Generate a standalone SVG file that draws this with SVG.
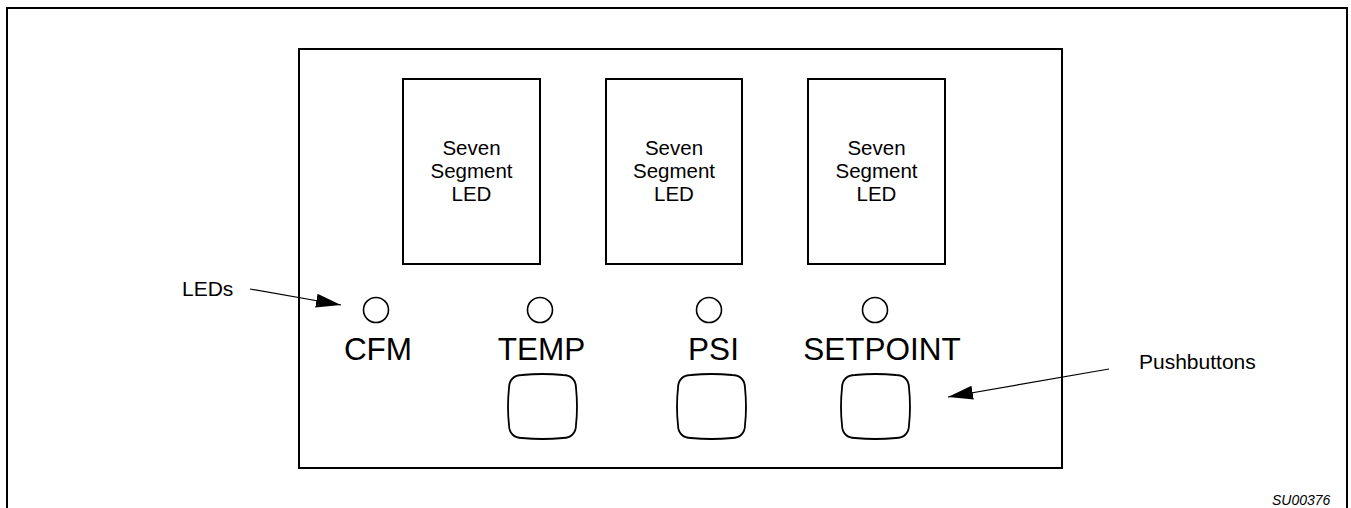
<svg xmlns="http://www.w3.org/2000/svg" xmlns:xlink="http://www.w3.org/1999/xlink" width="1351" height="508" viewBox="0 0 1351 508">
<style>
.ln{fill:none;stroke:#000;stroke-width:2}
.led{fill:none;stroke:#000;stroke-width:1.6}
.btn{fill:none;stroke:#000;stroke-width:1.8}
.t{font-family:"Liberation Sans",Arial,sans-serif;fill:#000}
.seg{font-size:20.5px;text-anchor:middle}
.lab{font-size:31.5px;text-anchor:middle}
.call{font-size:21px}
.ptr{fill:none;stroke:#000;stroke-width:1.2}
</style>
<defs>
<marker id="ah" markerUnits="userSpaceOnUse" markerWidth="26" markerHeight="16" refX="25" refY="7" orient="auto">
<path d="M0,0 L25,7 L0,14 Z" fill="#000"/>
</marker>
<path id="pb" d="M13,0 Q33.5,-2 54,0 C62,0 67,5 67,13 Q69,31.5 67,50 C67,58 62,63 54,63 Q33.5,65 13,63 C5,63 0,58 0,50 Q-2,31.5 0,13 C0,5 5,0 13,0 Z"/>
</defs>
<rect width="1351" height="508" fill="#fff"/>
<g id="frame"><path class="ln" d="M7,508 V8 H1347 V508"/></g>
<g id="panel"><rect class="ln" x="299" y="49" width="763" height="419"/></g>
<g id="display1"><rect class="ln" x="403" y="79" width="137" height="185"/>
<text class="t seg" x="471.5" y="155">Seven</text><text class="t seg" x="471.5" y="178">Segment</text><text class="t seg" x="471.5" y="201">LED</text></g>
<g id="display2"><rect class="ln" x="606" y="79" width="136" height="185"/>
<text class="t seg" x="674" y="155">Seven</text><text class="t seg" x="674" y="178">Segment</text><text class="t seg" x="674" y="201">LED</text></g>
<g id="display3"><rect class="ln" x="808" y="79" width="137" height="185"/>
<text class="t seg" x="876.5" y="155">Seven</text><text class="t seg" x="876.5" y="178">Segment</text><text class="t seg" x="876.5" y="201">LED</text></g>
<g id="cfm"><circle class="led" cx="376" cy="310" r="12.5"/><text class="t lab" x="378" y="360">CFM</text></g>
<g id="temp"><circle class="led" cx="540" cy="310" r="12.5"/><text class="t lab" x="541.5" y="360">TEMP</text>
<use class="btn" xlink:href="#pb" x="509" y="375"/></g>
<g id="psi"><circle class="led" cx="709" cy="310" r="12.5"/><text class="t lab" x="713.5" y="360">PSI</text>
<use class="btn" xlink:href="#pb" x="678" y="375"/></g>
<g id="setpoint"><circle class="led" cx="875" cy="310" r="12.5"/><text class="t lab" x="882" y="360">SETPOINT</text>
<use class="btn" xlink:href="#pb" x="842" y="375"/></g>
<g id="label-leds"><text class="t call" x="182" y="296">LEDs</text></g>
<g id="label-pushbuttons"><text class="t call" x="1139" y="369">Pushbuttons</text></g>
<g id="connectors">
<line class="ptr" x1="250" y1="289" x2="341" y2="305" marker-end="url(#ah)"/>
<line class="ptr" x1="1109" y1="369" x2="948" y2="397" marker-end="url(#ah)"/>
</g>
<text class="t" x="1272" y="505" font-size="14" font-style="italic">SU00376</text>
</svg>
